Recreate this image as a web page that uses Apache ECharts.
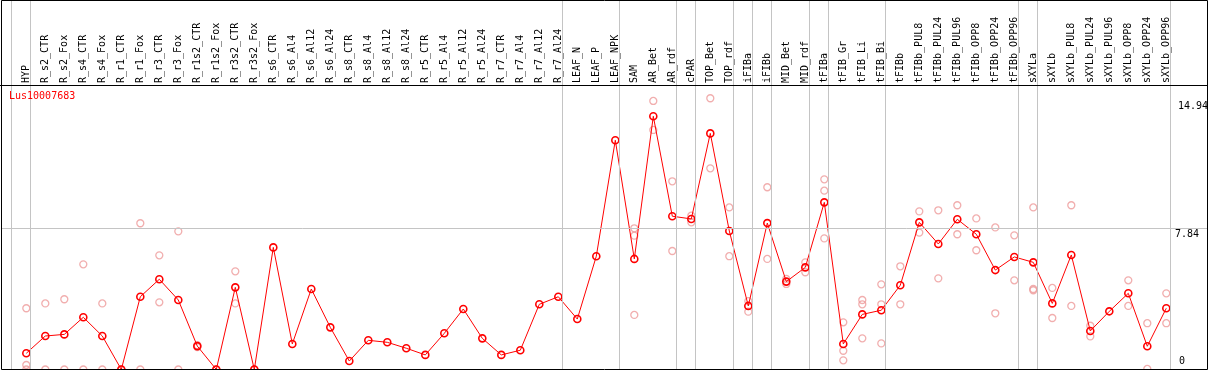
<!DOCTYPE html>
<html>
<head>
<meta charset="utf-8">
<script src="https://cdn.jsdelivr.net/npm/echarts@6/dist/echarts.min.js"></script>
<style>html,body{margin:0;padding:0;background:#fff;}#c{width:1209px;height:370px;}</style>
</head>
<body>
<div id="c"></div>
<script>
const geneName = 'Lus10007683';
const categories = ['HYP','R_s2_CTR','R_s2_Fox','R_s4_CTR','R_s4_Fox','R_r1_CTR','R_r1_Fox','R_r3_CTR','R_r3_Fox','R_r1s2_CTR','R_r1s2_Fox','R_r3s2_CTR','R_r3s2_Fox','R_s6_CTR','R_s6_Al4','R_s6_Al12','R_s6_Al24','R_s8_CTR','R_s8_Al4','R_s8_Al12','R_s8_Al24','R_r5_CTR','R_r5_Al4','R_r5_Al12','R_r5_Al24','R_r7_CTR','R_r7_Al4','R_r7_Al12','R_r7_Al24','LEAF_N','LEAF_P','LEAF_NPK','SAM','AR_Bet','AR_rdf','cPAR','TOP_Bet','TOP_rdf','iFIBa','iFIBb','MID_Bet','MID_rdf','tFIBa','tFIB_Gr','tFIB_Li','tFIB_Bi','tFIBb','tFIBb_PUL8','tFIBb_PUL24','tFIBb_PUL96','tFIBb_OPP8','tFIBb_OPP24','tFIBb_OPP96','sXYLa','sXYLb','sXYLb_PUL8','sXYLb_PUL24','sXYLb_PUL96','sXYLb_OPP8','sXYLb_OPP24','sXYLb_OPP96'];
const meanValues = [0.90,1.86,1.95,2.90,1.86,0,4.04,5.01,3.86,1.30,0,4.56,0,6.78,1.42,4.47,2.34,0.47,1.62,1.51,1.18,0.81,2.01,3.36,1.73,0.81,1.07,3.62,4.04,2.80,6.29,12.73,6.14,14.06,8.51,8.36,13.11,7.69,3.53,8.13,4.88,5.67,9.28,1.42,3.06,3.29,4.68,8.17,6.97,8.34,7.51,5.52,6.25,5.95,3.67,6.36,2.14,3.23,4.23,1.29,3.40];
const replicateValues = [
  [3.40,0.25,0],[3.67,0],[3.90,0],[5.84,0],[3.67,0],[0,0],[8.12,0],[6.34,3.73],[7.67,0],[1.35,1.25],[0,0],[5.45,3.67],[0,0],
  [],[],[],[],[],[],[],[],[],[],[],[],[],[],[],[],[],[],[],
  [7.84,7.43,3.03],[14.91,13.30],[10.45,6.58],[8.54,8.17],[15.06,11.17],[9.00,6.29],[3.80,3.21],[10.12,6.14],[5.03,4.75],[5.95,5.40],
  [10.56,9.93,7.28],[2.62,1.04,0.51],[3.86,3.62,1.73],[4.73,3.62,1.45],[5.73,3.62],[8.78,7.60],[8.84,5.06],[9.12,7.51],[8.39,6.62],[7.89,3.12],[7.45,4.95],
  [9.00,4.47,4.40],[4.53,2.86],[9.12,3.53],[2.43,1.84],[],[4.95,3.53],[2.57,0.03],[4.23,2.57]
];
const groupEndsAfter = [-1,0,28,31,34,35,37,38,39,41,42,45,52,53,60];
const referenceValue = 7.84;
const tickValues = [14.94, 7.84, 0];
const tickLabels = ['14.94', '7.84', '0'];

const MONO = 'DejaVu Sans Mono';
const chart = echarts.init(document.getElementById('c'), null, {renderer: 'canvas'});

const meanData = meanValues.map((v, i) => [i, v]);
const repData = [];
replicateValues.forEach((reps, i) => reps.forEach(v => repData.push([i, v])));

const option = {
  animation: false,
  title: {
    text: geneName, left: 9, top: 91, padding: 0,
    textStyle: {fontFamily: MONO, fontSize: 10, fontWeight: 'normal', color: '#ff0000'}
  },
  grid: [
    {left: 1, right: 1, top: 0, bottom: 0.5, outerBoundsMode: 'none'},
    {left: 16.8, width: 1159, top: 85, height: 1, outerBoundsMode: 'none'}
  ],
  xAxis: [
    {type: 'value', gridIndex: 0, min: -1.332, max: 62.195, show: false},
    {type: 'category', gridIndex: 1, data: categories, position: 'top', boundaryGap: true,
     axisLine: {show: false}, axisTick: {show: false}, splitLine: {show: false},
     axisLabel: {interval: 0, rotate: 90, margin: 2, fontFamily: MONO, fontSize: 10, color: '#000'}}
  ],
  yAxis: [
    {type: 'value', gridIndex: 0, min: 0, max: 20.516, show: false},
    {type: 'value', gridIndex: 1, show: false}
  ],
  series: [
    {
      type: 'scatter', xAxisIndex: 0, yAxisIndex: 0, data: repData,
      symbol: 'circle', symbolSize: 7,
      itemStyle: {color: 'rgba(0,0,0,0)', borderColor: '#ee9a9a', borderWidth: 1.3},
      z: 2, silent: true
    },
    {
      type: 'line', xAxisIndex: 0, yAxisIndex: 0, data: meanData,
      symbol: 'circle', symbolSize: 7, showAllSymbol: true,
      lineStyle: {color: '#ff0000', width: 1},
      itemStyle: {color: 'rgba(0,0,0,0)', borderColor: '#ff0000', borderWidth: 1.6},
      z: 3, silent: true,
      markLine: {
        silent: true, symbol: ['none', 'none'], label: {show: false},
        lineStyle: {color: '#c4c4c4', width: 1, type: 'solid'},
        emphasis: {disabled: true},
        data: [{yAxis: referenceValue}].concat(groupEndsAfter.map(k => ({xAxis: k + 0.22})))
      }
    }
  ]
};
chart.setOption(option);

const tickX = [1178, 1175, 1179];
const tickEls = tickValues.map((v, i) => {
  const py = chart.convertToPixel({yAxisIndex: 0}, v);
  const isBottom = (v === 0);
  return {
    type: 'text', z: 20, silent: true,
    x: tickX[i], y: isBottom ? py - 3.5 : py + 1,
    style: {text: tickLabels[i], fontFamily: MONO, fontSize: 10, fill: '#000',
            align: 'left', verticalAlign: isBottom ? 'bottom' : 'top'}
  };
});

chart.setOption({
  graphic: {elements: [
    {type: 'rect', z: 30, silent: true, shape: {x: 1.5, y: 0.5, width: 1206, height: 369},
     style: {fill: 'none', stroke: '#000', lineWidth: 1}},
    {type: 'line', z: 30, silent: true, shape: {x1: 0, y1: 85.5, x2: 1208, y2: 85.5},
     style: {stroke: '#000', lineWidth: 1}}
  ].concat(tickEls)}
});
</script>
</body>
</html>
